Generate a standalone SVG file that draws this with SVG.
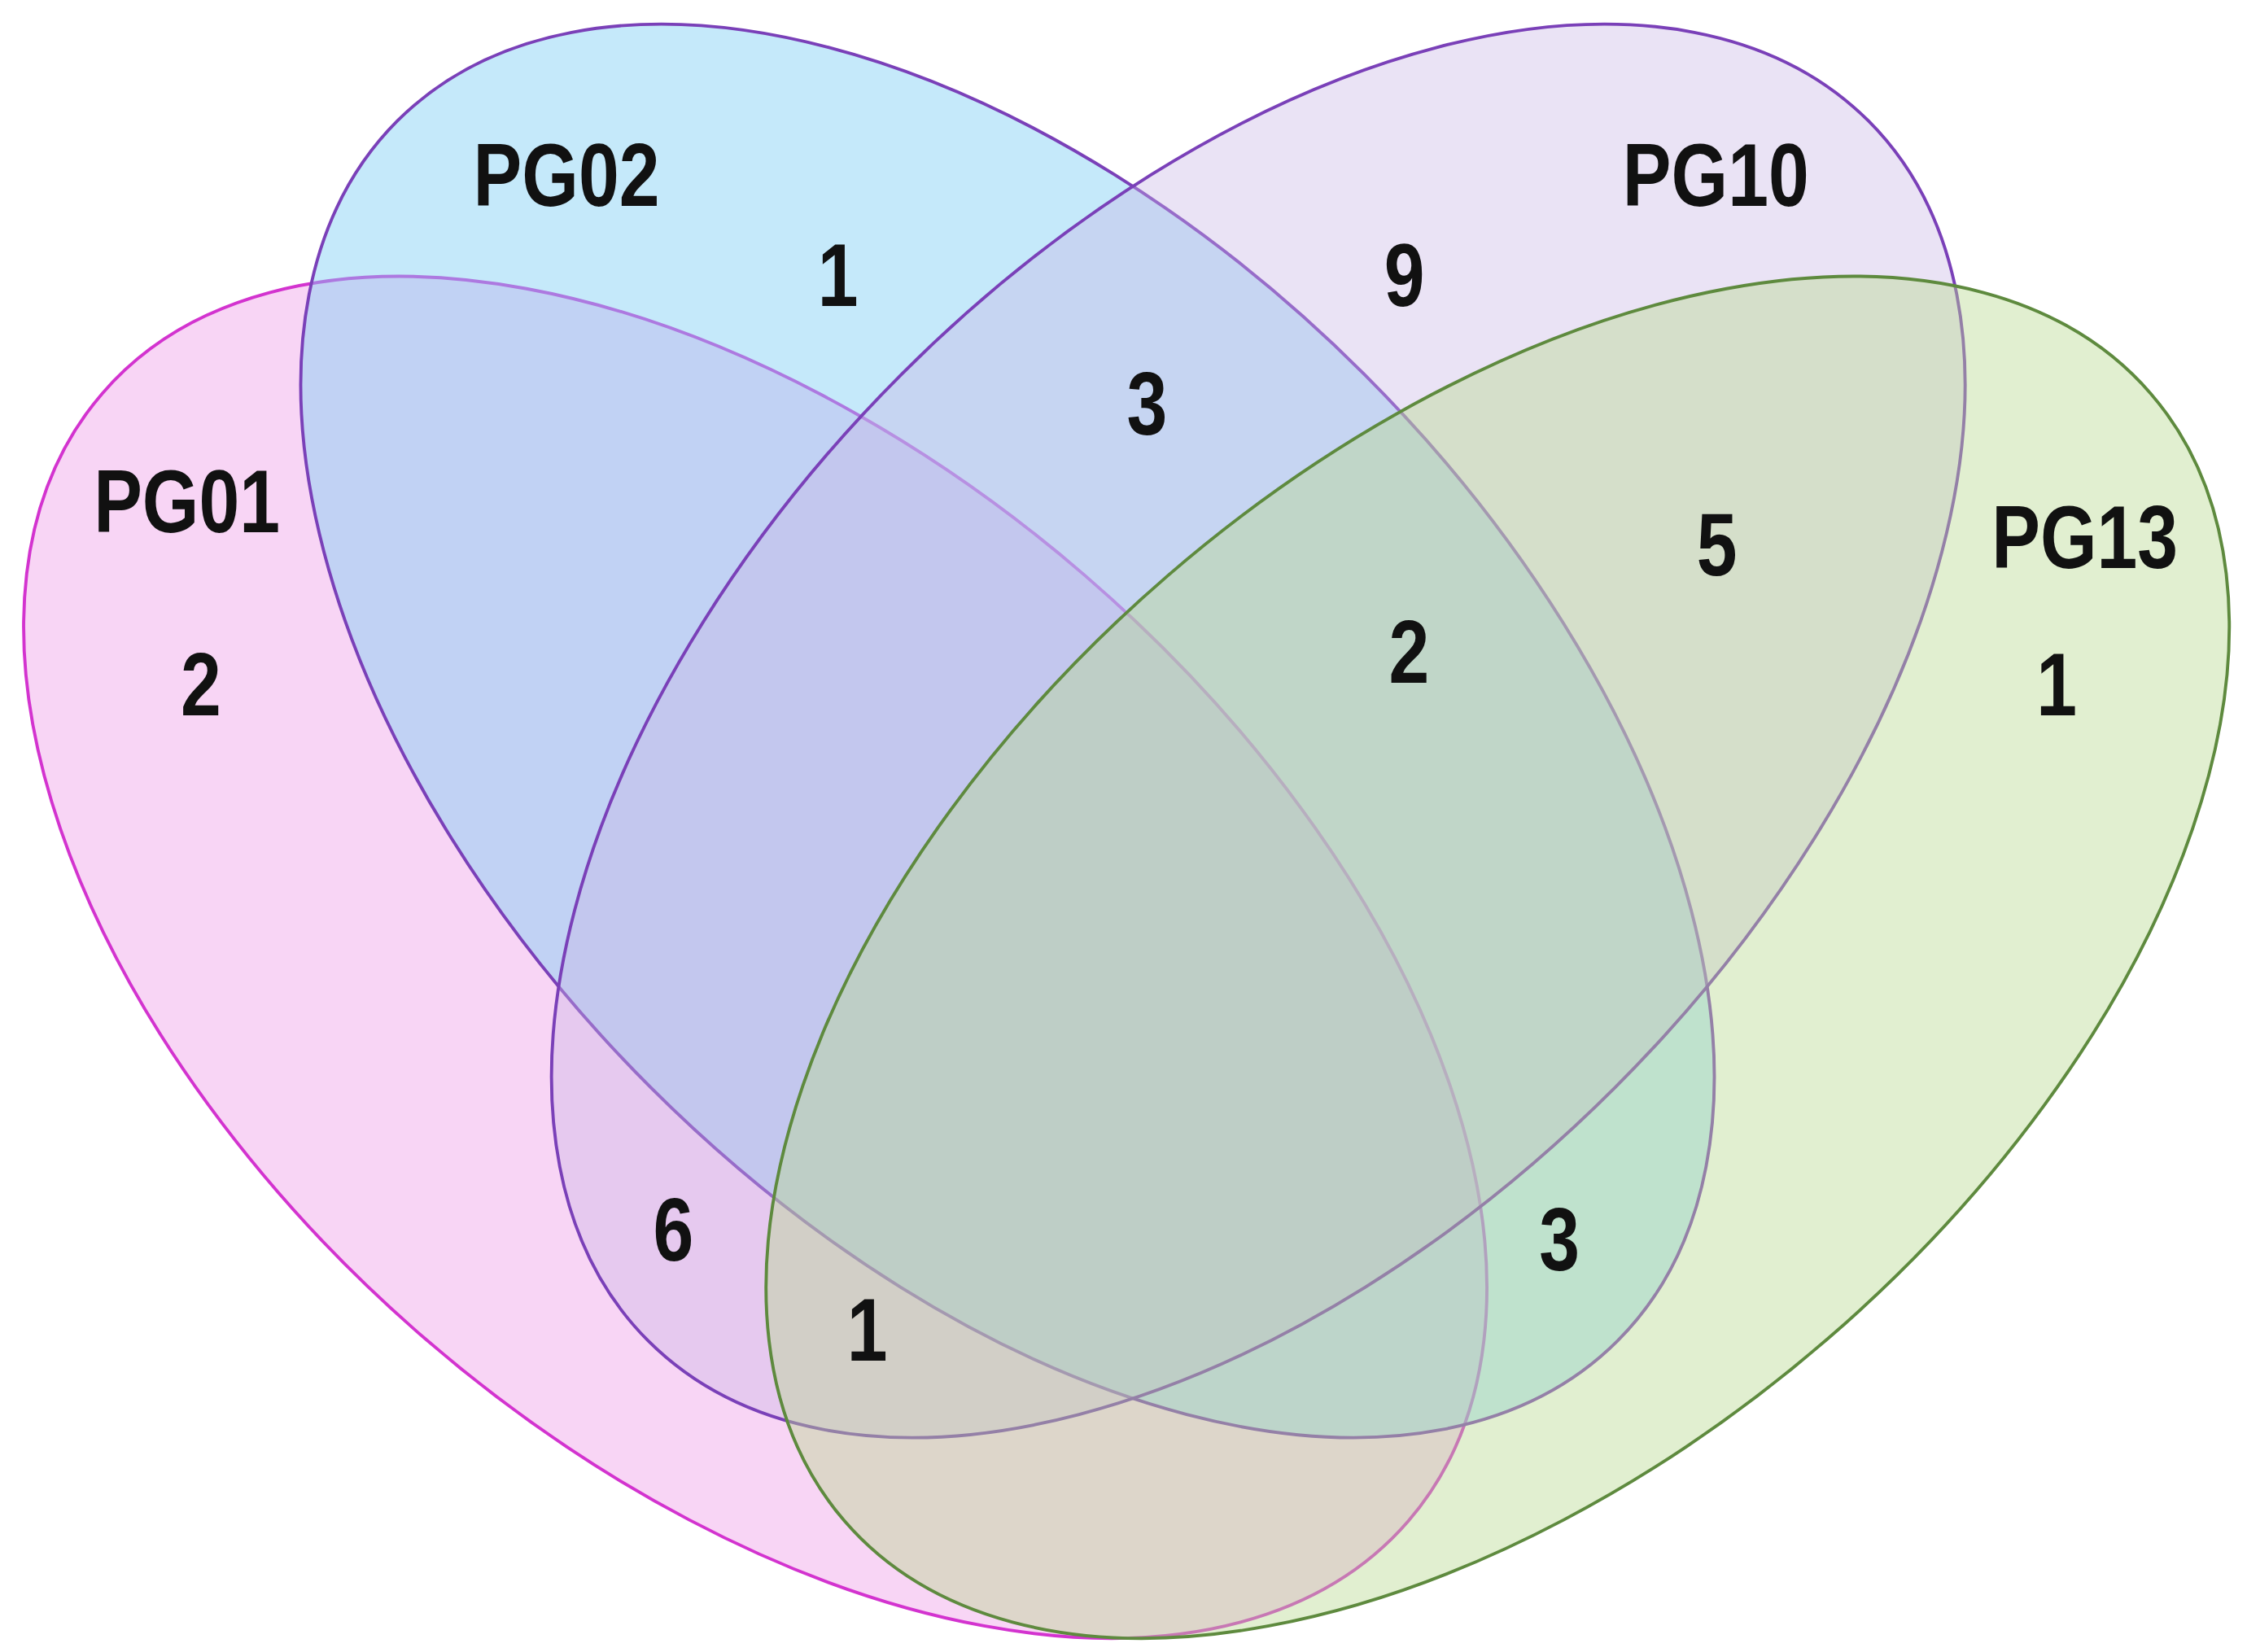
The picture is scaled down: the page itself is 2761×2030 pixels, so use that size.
<svg xmlns="http://www.w3.org/2000/svg" width="2761" height="2030" viewBox="0 0 2761 2030">
<style>
.t{font-family:"Liberation Sans",Arial,sans-serif;font-weight:bold;font-size:62px;fill:#111;text-anchor:middle;dominant-baseline:central}
.e{stroke-width:2.2}
</style>
<rect width="2761" height="2030" fill="#fff"/>
<g transform="scale(1.761)">
<g id="PG01"><ellipse class="e" cx="527" cy="668" rx="602" ry="352" transform="rotate(40.8 527 668)" fill="#ee9ae6" fill-opacity="0.42" stroke="#d333cf"/></g>
<g id="PG02"><ellipse class="e" cx="703" cy="510" rx="602" ry="352" transform="rotate(45 703 510)" fill="#7fcff5" fill-opacity="0.45" stroke="#7a40b8"/></g>
<g id="PG10"><ellipse class="e" cx="878" cy="510" rx="602" ry="352" transform="rotate(-45 878 510)" fill="#c8b6e6" fill-opacity="0.38" stroke="#7a40b8"/></g>
<g id="PG13"><ellipse class="e" cx="1045" cy="668" rx="602" ry="352" transform="rotate(-40.8 1045 668)" fill="#b8d890" fill-opacity="0.42" stroke="#5e8a3e"/></g>
<g id="labels" transform="scale(0.82 1)">
<text class="t" x="482" y="122">PG02</text>
<text class="t" x="713" y="192">1</text>
<text class="t" x="1460" y="122">PG10</text>
<text class="t" x="1195" y="192">9</text>
<text class="t" x="976" y="282">3</text>
<text class="t" x="159" y="350">PG01</text>
<text class="t" x="171" y="478">2</text>
<text class="t" x="1461" y="380">5</text>
<text class="t" x="1199" y="455">2</text>
<text class="t" x="1774" y="375">PG13</text>
<text class="t" x="1750" y="478">1</text>
<text class="t" x="573" y="858">6</text>
<text class="t" x="738" y="928">1</text>
<text class="t" x="1327" y="865">3</text>
</g>
</g>
</svg>
